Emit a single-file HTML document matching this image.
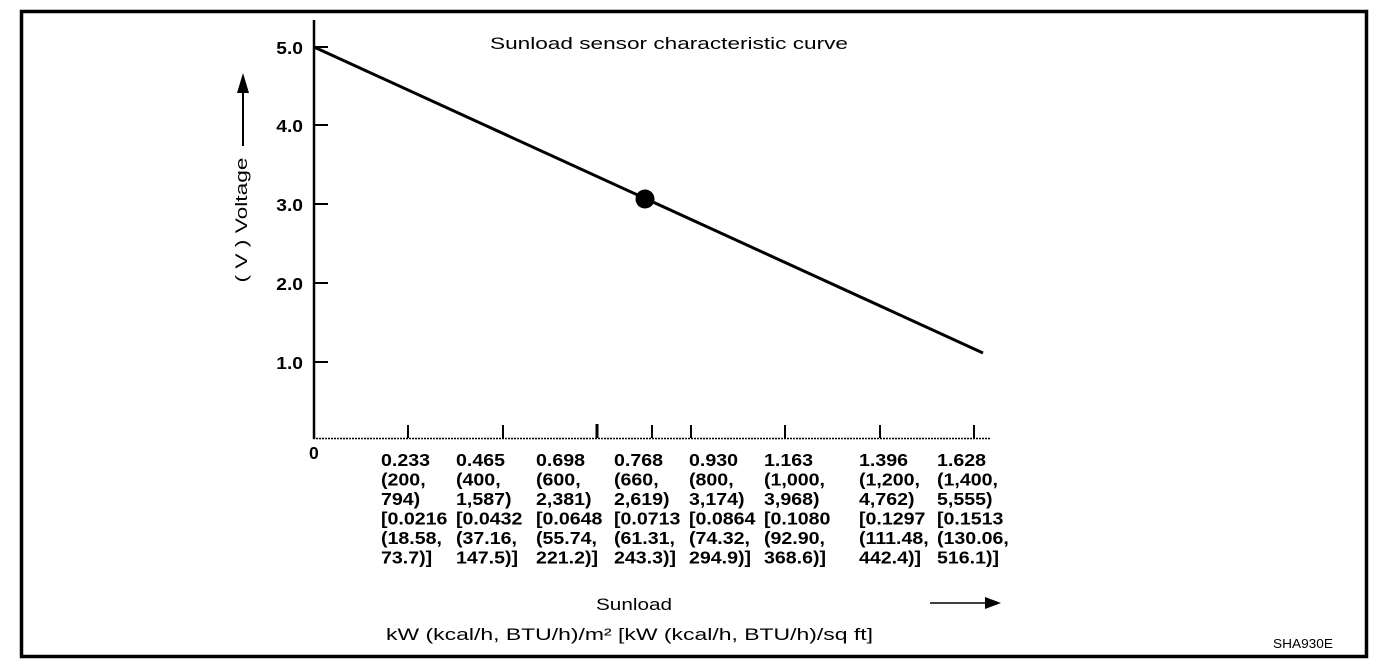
<!DOCTYPE html>
<html><head><meta charset="utf-8"><style>
html,body{margin:0;padding:0;background:#fff;}
svg{display:block;}
text{font-family:"Liberation Sans",Arial,sans-serif;fill:#000;}
.b{font-weight:bold;font-size:17.5px;}
</style></head><body>
<svg width="1392" height="670" viewBox="0 0 1392 670">
<rect x="21.5" y="11.5" width="1345" height="645" fill="none" stroke="#000" stroke-width="3.5"/>
<text x="490" y="49" font-size="17" textLength="358" lengthAdjust="spacingAndGlyphs">Sunload  sensor  characteristic  curve</text>
<line x1="314" y1="20" x2="314" y2="439" stroke="#000" stroke-width="2.5"/>
<line x1="313" y1="438.5" x2="990" y2="438.5" stroke="#000" stroke-width="1.5" stroke-dasharray="2,1"/>
<g stroke="#000" stroke-width="2">
<line x1="314" y1="47" x2="328" y2="47"/>
<line x1="314" y1="125" x2="328" y2="125"/>
<line x1="314" y1="204" x2="328" y2="204"/>
<line x1="314" y1="283" x2="328" y2="283"/>
<line x1="314" y1="362" x2="328" y2="362"/>
<line x1="408" y1="425" x2="408" y2="438"/>
<line x1="503" y1="425" x2="503" y2="438"/>
<line x1="597" y1="424" x2="597" y2="438" stroke-width="3"/>
<line x1="652" y1="425" x2="652" y2="438"/>
<line x1="691" y1="425" x2="691" y2="438"/>
<line x1="785" y1="425" x2="785" y2="438"/>
<line x1="880" y1="425" x2="880" y2="438"/>
<line x1="974" y1="425" x2="974" y2="438"/>
</g>
<g transform="translate(303,0) scale(1.1,1)" text-anchor="end">
<text x="0" y="54" class="b">5.0</text>
<text x="0" y="132" class="b">4.0</text>
<text x="0" y="211" class="b">3.0</text>
<text x="0" y="290" class="b">2.0</text>
<text x="0" y="369" class="b">1.0</text>
</g>
<line x1="314" y1="47" x2="983" y2="353" stroke="#000" stroke-width="3"/>
<circle cx="645" cy="199" r="9.5" fill="#000"/>
<text transform="translate(247,220) rotate(-90)" text-anchor="middle" font-size="17" textLength="125" lengthAdjust="spacingAndGlyphs">(  V  )   Voltage</text>
<line x1="243" y1="146" x2="243" y2="88" stroke="#000" stroke-width="2"/>
<polygon points="243,73 237,93 249,93" fill="#000"/>
<text x="309" y="459" class="b">0</text>
<g transform="translate(381,0) scale(1.12,1)"><text class="b"><tspan x="0" y="466">0.233</tspan><tspan x="0" dy="19.5">(200,</tspan><tspan x="0" dy="19.5">794)</tspan><tspan x="0" dy="19.5">[0.0216</tspan><tspan x="0" dy="19.5">(18.58,</tspan><tspan x="0" dy="19.5">73.7)]</tspan></text></g>
<g transform="translate(456,0) scale(1.12,1)"><text class="b"><tspan x="0" y="466">0.465</tspan><tspan x="0" dy="19.5">(400,</tspan><tspan x="0" dy="19.5">1,587)</tspan><tspan x="0" dy="19.5">[0.0432</tspan><tspan x="0" dy="19.5">(37.16,</tspan><tspan x="0" dy="19.5">147.5)]</tspan></text></g>
<g transform="translate(536,0) scale(1.12,1)"><text class="b"><tspan x="0" y="466">0.698</tspan><tspan x="0" dy="19.5">(600,</tspan><tspan x="0" dy="19.5">2,381)</tspan><tspan x="0" dy="19.5">[0.0648</tspan><tspan x="0" dy="19.5">(55.74,</tspan><tspan x="0" dy="19.5">221.2)]</tspan></text></g>
<g transform="translate(614,0) scale(1.12,1)"><text class="b"><tspan x="0" y="466">0.768</tspan><tspan x="0" dy="19.5">(660,</tspan><tspan x="0" dy="19.5">2,619)</tspan><tspan x="0" dy="19.5">[0.0713</tspan><tspan x="0" dy="19.5">(61.31,</tspan><tspan x="0" dy="19.5">243.3)]</tspan></text></g>
<g transform="translate(689,0) scale(1.12,1)"><text class="b"><tspan x="0" y="466">0.930</tspan><tspan x="0" dy="19.5">(800,</tspan><tspan x="0" dy="19.5">3,174)</tspan><tspan x="0" dy="19.5">[0.0864</tspan><tspan x="0" dy="19.5">(74.32,</tspan><tspan x="0" dy="19.5">294.9)]</tspan></text></g>
<g transform="translate(764,0) scale(1.12,1)"><text class="b"><tspan x="0" y="466">1.163</tspan><tspan x="0" dy="19.5">(1,000,</tspan><tspan x="0" dy="19.5">3,968)</tspan><tspan x="0" dy="19.5">[0.1080</tspan><tspan x="0" dy="19.5">(92.90,</tspan><tspan x="0" dy="19.5">368.6)]</tspan></text></g>
<g transform="translate(859,0) scale(1.12,1)"><text class="b"><tspan x="0" y="466">1.396</tspan><tspan x="0" dy="19.5">(1,200,</tspan><tspan x="0" dy="19.5">4,762)</tspan><tspan x="0" dy="19.5">[0.1297</tspan><tspan x="0" dy="19.5">(111.48,</tspan><tspan x="0" dy="19.5">442.4)]</tspan></text></g>
<g transform="translate(937,0) scale(1.12,1)"><text class="b"><tspan x="0" y="466">1.628</tspan><tspan x="0" dy="19.5">(1,400,</tspan><tspan x="0" dy="19.5">5,555)</tspan><tspan x="0" dy="19.5">[0.1513</tspan><tspan x="0" dy="19.5">(130.06,</tspan><tspan x="0" dy="19.5">516.1)]</tspan></text></g>
<text x="596" y="610" font-size="17" textLength="76" lengthAdjust="spacingAndGlyphs">Sunload</text>
<line x1="930" y1="603" x2="990" y2="603" stroke="#000" stroke-width="1.5"/>
<polygon points="1001,603 985,597 985,609" fill="#000"/>
<text x="386" y="640" font-size="17" textLength="487" lengthAdjust="spacingAndGlyphs">kW (kcal/h, BTU/h)/m²  [kW (kcal/h, BTU/h)/sq ft]</text>
<text x="1273" y="648" font-size="12.5" textLength="60" lengthAdjust="spacingAndGlyphs">SHA930E</text>
</svg>
</body></html>
